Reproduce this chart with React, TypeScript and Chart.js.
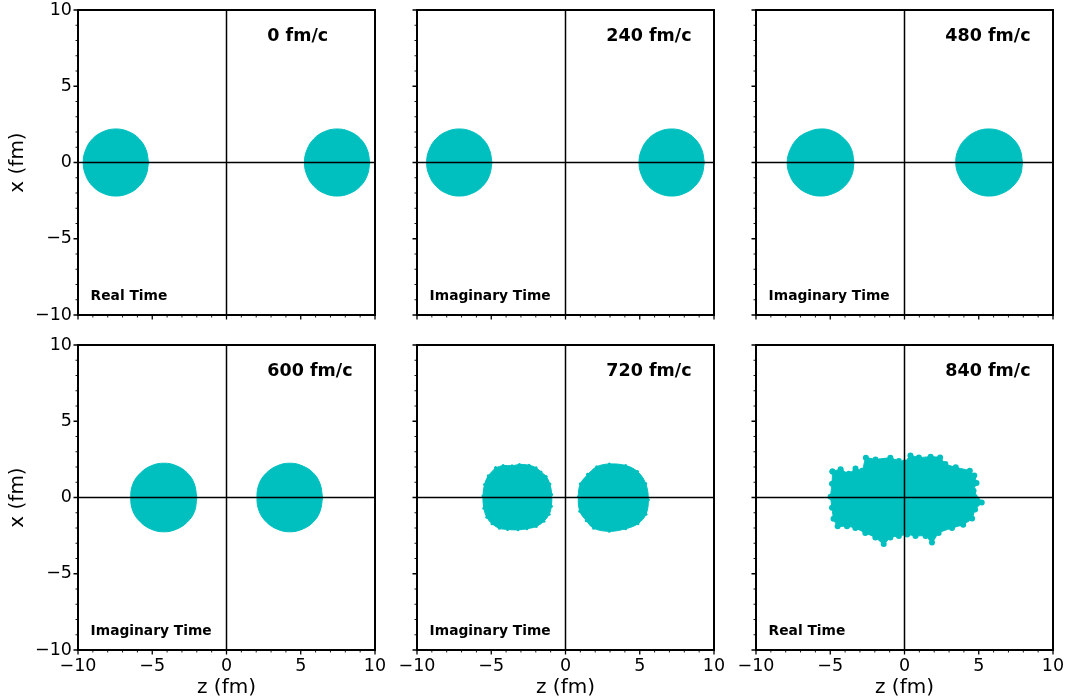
import React, { useEffect, useRef } from 'react';
import { Chart, registerables } from 'chart.js';

Chart.register(...registerables);

// ---------- data ----------
const TIME_LABELS = ['0 fm/c', '240 fm/c', '480 fm/c', '600 fm/c', '720 fm/c', '840 fm/c'];
const MODE_LABELS = ['Real Time', 'Imaginary Time', 'Imaginary Time', 'Imaginary Time', 'Imaginary Time', 'Real Time'];
const MAJOR_TICKS = [-10, -5, 0, 5, 10];
const MINOR_TICKS = [-9, -8, -7, -6, -4, -3, -2, -1, 1, 2, 3, 4, 6, 7, 8, 9];
const X_TITLE = 'z (fm)';
const Y_TITLE = 'x (fm)';

type Pt = [number, number]; // [z, x]

const T0_LEFT: Pt[] = [[-5.25,0],[-5.42,0.84],[-5.89,1.56],[-6.61,2.03],[-7.45,2.2],[-8.29,2.03],[-9.01,1.56],[-9.48,0.84],[-9.65,0],[-9.48,-0.84],[-9.01,-1.56],[-8.29,-2.03],[-7.45,-2.2],[-6.61,-2.03],[-5.89,-1.56],[-5.42,-0.84],[-5.25,0]];
const T0_RIGHT: Pt[] = [[9.65,0],[9.48,0.84],[9.01,1.56],[8.29,2.03],[7.45,2.2],[6.61,2.03],[5.89,1.56],[5.42,0.84],[5.25,0],[5.42,-0.84],[5.89,-1.56],[6.61,-2.03],[7.45,-2.2],[8.29,-2.03],[9.01,-1.56],[9.48,-0.84],[9.65,0]];
const T240_LEFT: Pt[] = [[-4.95,0],[-5.12,0.84],[-5.59,1.56],[-6.31,2.03],[-7.15,2.2],[-7.99,2.03],[-8.71,1.56],[-9.18,0.84],[-9.35,0],[-9.18,-0.84],[-8.71,-1.56],[-7.99,-2.03],[-7.15,-2.2],[-6.31,-2.03],[-5.59,-1.56],[-5.12,-0.84],[-4.95,0]];
const T240_RIGHT: Pt[] = [[9.35,0],[9.18,0.84],[8.71,1.56],[7.99,2.03],[7.15,2.2],[6.31,2.03],[5.59,1.56],[5.12,0.84],[4.95,0],[5.12,-0.84],[5.59,-1.56],[6.31,-2.03],[7.15,-2.2],[7.99,-2.03],[8.71,-1.56],[9.18,-0.84],[9.35,0]];
const T480_LEFT: Pt[] = [[-3.4,0],[-3.57,0.86],[-4.05,1.55],[-4.8,2.05],[-5.65,2.2],[-6.5,2.0],[-7.2,1.58],[-7.7,0.84],[-7.9,0],[-7.72,-0.85],[-7.25,-1.55],[-6.5,-2.03],[-5.65,-2.2],[-4.8,-2.03],[-4.05,-1.57],[-3.55,-0.84],[-3.4,0]];
const T480_RIGHT: Pt[] = [[7.95,0],[7.78,0.86],[7.3,1.56],[6.55,2.03],[5.7,2.2],[4.85,2.04],[4.12,1.56],[3.62,0.84],[3.45,0],[3.65,-0.85],[4.15,-1.56],[4.85,-2.03],[5.7,-2.2],[6.55,-2.03],[7.28,-1.57],[7.8,-0.84],[7.95,0]];
const T600_LEFT: Pt[] = [[-2.0,0],[-2.17,0.9],[-2.63,1.6],[-3.37,2.08],[-4.22,2.25],[-5.07,2.08],[-5.8,1.6],[-6.3,0.9],[-6.45,0],[-6.3,-0.9],[-5.8,-1.6],[-5.07,-2.08],[-4.22,-2.25],[-3.37,-2.08],[-2.63,-1.6],[-2.15,-0.9],[-2.0,0]];
const T600_RIGHT: Pt[] = [[6.47,0],[6.3,0.9],[5.85,1.6],[5.1,2.08],[4.26,2.25],[3.42,2.08],[2.68,1.6],[2.2,0.9],[2.05,0],[2.2,-0.9],[2.68,-1.6],[3.42,-2.08],[4.26,-2.25],[5.1,-2.08],[5.85,-1.6],[6.3,-0.9],[6.47,0]];
const T720_LEFT: Pt[] = [[-4.7,1.95],[-4.2,2.1],[-3.6,2.08],[-3.1,2.17],[-2.45,2.12],[-1.98,1.95],[-1.65,1.68],[-1.3,1.38],[-1.05,0.88],[-0.93,0.2],[-0.95,-0.58],[-1.1,-1.1],[-1.45,-1.55],[-1.97,-1.9],[-2.6,-2.05],[-3.2,-2.12],[-3.9,-2.1],[-4.45,-2.02],[-4.95,-1.72],[-5.3,-1.3],[-5.5,-0.7],[-5.56,0.1],[-5.45,0.85],[-5.2,1.42],[-4.7,1.95]];
const T720_RIGHT: Pt[] = [[1.5,1.52],[2.1,2.02],[2.95,2.2],[4.05,2.1],[4.85,1.7],[5.4,0.92],[5.58,-0.15],[5.42,-1.1],[4.88,-1.72],[4.05,-2.05],[2.95,-2.22],[1.9,-2.02],[1.4,-1.52],[0.96,-0.9],[0.86,0.05],[1.0,0.9],[1.5,1.52]];
const T840_BLOB: Pt[] = [[-4.85,1.7],[-4.3,1.85],[-3.75,1.55],[-3.3,1.9],[-2.85,1.75],[-2.6,2.6],[-1.95,2.5],[-0.95,2.6],[-0.38,2.4],[0,2.3],[0.4,2.75],[0.97,2.62],[1.76,2.68],[2.4,2.62],[2.75,2.2],[3.45,1.98],[4.4,1.75],[4.7,1.45],[4.85,0.95],[4.65,0.45],[5.2,-0.32],[4.75,-0.78],[4.55,-1.38],[3.95,-1.78],[3.2,-2.0],[2.3,-2.32],[1.85,-2.95],[1.42,-2.52],[0.74,-2.52],[0.18,-2.42],[-0.38,-2.52],[-0.95,-2.62],[-1.4,-3.05],[-1.96,-2.62],[-2.64,-2.32],[-3.31,-2.0],[-3.87,-1.88],[-4.5,-1.88],[-4.78,-1.4],[-4.88,-0.68],[-4.98,0.05],[-4.88,0.9],[-4.85,1.7]];

const PANEL_BLOBS: Pt[][][] = [
  [T0_LEFT, T0_RIGHT],
  [T240_LEFT, T240_RIGHT],
  [T480_LEFT, T480_RIGHT],
  [T600_LEFT, T600_RIGHT],
  [T720_LEFT, T720_RIGHT],
  [T840_BLOB],
];

// ---------- style / layout ----------
const CYAN = '#00BFBF';
const FONT = '"DejaVu Sans", "Liberation Sans", sans-serif';
const BLOB_DOT = [0, 0, 0, 0, 1.5, 3];
const BLOB_TENSION = [0.4, 0.4, 0.4, 0.4, 0.35, 0.15];
const COL_LEFT = [78, 417, 756];
const ROW_TOP = [10, 345];
const PANEL_W = 297;
const PANEL_H = 305;
const AXIS_W = 78;
const PAD_TOP = 26;
const PAD_RIGHT = 26;
const X_AXIS_H = 50;
const CANVAS_W = AXIS_W + PANEL_W + PAD_RIGHT;
const CANVAS_H = PAD_TOP + PANEL_H + X_AXIS_H;
const TITLE_AT: Pt = [2.75, 7.95];
const MODE_AT: Pt = [-9.15, -9.0];

const fmt = (v: number | string) => String(v).replace('-', '\u2212');

function makeFramePlugin(idx: number) {
  return {
    id: 'frame' + idx,
    afterDatasetsDraw(chart: any) {
      const { ctx, chartArea: a, scales } = chart;
      const sx = scales.x, sy = scales.y;
      ctx.save();
      // zero lines
      ctx.strokeStyle = '#000';
      ctx.lineWidth = 1.5;
      const x0 = sx.getPixelForValue(0);
      const y0 = sy.getPixelForValue(0);
      ctx.beginPath();
      ctx.moveTo(x0, a.top); ctx.lineTo(x0, a.bottom);
      ctx.moveTo(a.left, y0); ctx.lineTo(a.right, y0);
      ctx.stroke();
      // frame
      ctx.lineWidth = 2;
      ctx.strokeRect(a.left, a.top, a.right - a.left, a.bottom - a.top);
      // ticks
      const drawTicks = (vals: number[], len: number, w: number) => {
        ctx.lineWidth = w;
        ctx.beginPath();
        for (const v of vals) {
          const px = sx.getPixelForValue(v);
          ctx.moveTo(px, a.bottom); ctx.lineTo(px, a.bottom + len);
          const py = sy.getPixelForValue(v);
          ctx.moveTo(a.left, py); ctx.lineTo(a.left - len, py);
        }
        ctx.stroke();
      };
      drawTicks(MAJOR_TICKS, 4.5, 1.3);
      drawTicks(MINOR_TICKS, 2.5, 0.9);
      // texts
      ctx.fillStyle = '#000';
      ctx.textAlign = 'left';
      ctx.textBaseline = 'alphabetic';
      ctx.font = 'bold 17.5px ' + FONT;
      ctx.fillText(TIME_LABELS[idx], sx.getPixelForValue(TITLE_AT[0]), sy.getPixelForValue(TITLE_AT[1]));
      ctx.font = 'bold 13.8px ' + FONT;
      ctx.fillText(MODE_LABELS[idx], sx.getPixelForValue(MODE_AT[0]), sy.getPixelForValue(MODE_AT[1]));
      ctx.restore();
    },
  };
}

function Panel({ idx }: { idx: number }) {
  const ref = useRef<HTMLCanvasElement>(null);
  const row = Math.floor(idx / 3);
  const col = idx % 3;
  useEffect(() => {
    const showX = row === 1;
    const showY = col === 0;
    const tickFont = { family: FONT, size: 17.5 };
    const titleFont = { family: FONT, size: 20 };
    const chart = new Chart(ref.current as HTMLCanvasElement, {
      type: 'scatter',
      data: {
        datasets: PANEL_BLOBS[idx].map((blob) => ({
          data: blob.map(([z, x]) => ({ x: z, y: x })),
          showLine: true,
          fill: 'shape',
          tension: BLOB_TENSION[idx],
          borderWidth: 1,
          borderColor: CYAN,
          backgroundColor: CYAN,
          pointRadius: BLOB_DOT[idx],
          pointHoverRadius: 0,
          pointBackgroundColor: CYAN,
          pointBorderWidth: 0,
        })),
      },
      options: {
        animation: false,
        responsive: false,
        maintainAspectRatio: false,
        events: [],
        layout: { padding: { left: 0, top: PAD_TOP, right: PAD_RIGHT, bottom: 0 } },
        plugins: {
          legend: { display: false },
          tooltip: { enabled: false },
          title: { display: false },
        },
        scales: {
          x: {
            type: 'linear',
            position: 'bottom',
            min: -10,
            max: 10,
            grid: { display: false, drawTicks: false },
            border: { display: false },
            ticks: { display: showX, stepSize: 5, padding: 6, color: '#000', font: tickFont, callback: (v: any) => fmt(v) },
            title: { display: showX, text: X_TITLE, color: '#000', font: titleFont, padding: { top: 0, bottom: 0 } },
            afterFit: (s: any) => { s.height = X_AXIS_H; },
          },
          y: {
            type: 'linear',
            position: 'left',
            min: -10,
            max: 10,
            grid: { display: false, drawTicks: false },
            border: { display: false },
            ticks: { display: showY, stepSize: 5, padding: 6, color: '#000', font: tickFont, callback: (v: any) => fmt(v) },
            title: { display: showY, text: Y_TITLE, color: '#000', font: titleFont, padding: { top: 6, bottom: 0 } },
            afterFit: (s: any) => { s.width = AXIS_W; },
          },
        },
      } as any,
      plugins: [makeFramePlugin(idx)],
    });
    return () => chart.destroy();
  }, [idx, row, col]);
  return (
    <canvas
      ref={ref}
      width={CANVAS_W}
      height={CANVAS_H}
      style={{
        position: 'absolute',
        left: COL_LEFT[col] - AXIS_W,
        top: ROW_TOP[row] - PAD_TOP,
        width: CANVAS_W,
        height: CANVAS_H,
      }}
    />
  );
}

export default function App() {
  return (
    <div style={{ position: 'absolute', left: 0, top: 0, width: 1068, height: 700, background: '#fff', overflow: 'hidden' }}>
      {TIME_LABELS.map((_, i) => (
        <Panel key={i} idx={i} />
      ))}
    </div>
  );
}
